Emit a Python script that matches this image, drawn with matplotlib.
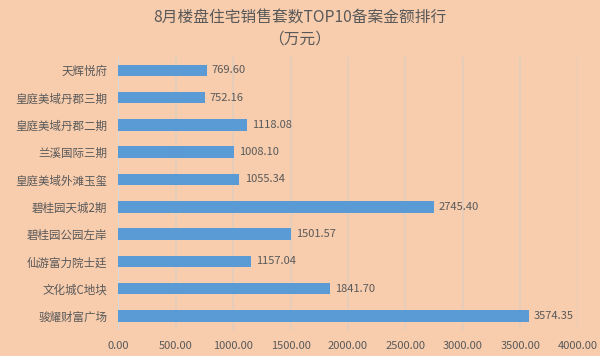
import matplotlib.pyplot as plt

plt.rcParams['font.family'] = ['Noto Sans CJK SC', 'DejaVu Sans']

names = ['天辉悦府', '皇庭美域丹郡三期', '皇庭美域丹郡二期', '兰溪国际三期', '皇庭美域外滩玉玺',
         '碧桂园天城2期', '碧桂园公园左岸', '仙游富力院士廷', '文化城C地块', '骏耀财富广场']
amounts = [769.60, 752.16, 1118.08, 1008.10, 1055.34,
           2745.40, 1501.57, 1157.04, 1841.70, 3574.35]
xticks = [0, 500, 1000, 1500, 2000, 2500, 3000, 3500, 4000]

bg = '#F8CDAE'
txt = '#595959'

fig = plt.figure(figsize=(6, 3.56), dpi=100, facecolor=bg)
ax = fig.add_axes([0.197, 0.074, 0.766, 0.767])
ax.set_facecolor(bg)

pos = list(range(len(names)))[::-1]
bars = ax.barh(pos, amounts, height=0.42, color='#5B9BD5', zorder=3)
for b, v in zip(bars, amounts):
    ax.text(b.get_width() + 45, b.get_y() + b.get_height() / 2, '%.2f' % v,
            va='center', ha='left', fontsize=8, color=txt, zorder=4)

ax.set_xlim(0, 4000)
ax.set_ylim(-0.5, len(names) - 0.5)
ax.set_xticks(xticks)
ax.set_xticklabels(['%.2f' % t for t in xticks], fontsize=8, color=txt)
ax.set_yticks(pos)
ax.set_yticklabels(names, fontsize=8.3, color=txt)
ax.tick_params(length=0, pad=8)
ax.tick_params(axis='y', pad=8)
ax.grid(axis='x', color='#E6CDBB', linewidth=1.4, zorder=0)
for s in ax.spines.values():
    s.set_visible(False)
ax.axvline(0, color='#D9D9D9', linewidth=0.8, zorder=2)

fig.text(0.5, 0.948, '8月楼盘住宅销售套数TOP10备案金额排行', ha='center', va='center',
         fontsize=11.3, color=txt)
fig.text(0.5, 0.89, '（万元）', ha='center', va='center', fontsize=11.3, color=txt)

fig.savefig('out.png', dpi=100, facecolor=bg)
